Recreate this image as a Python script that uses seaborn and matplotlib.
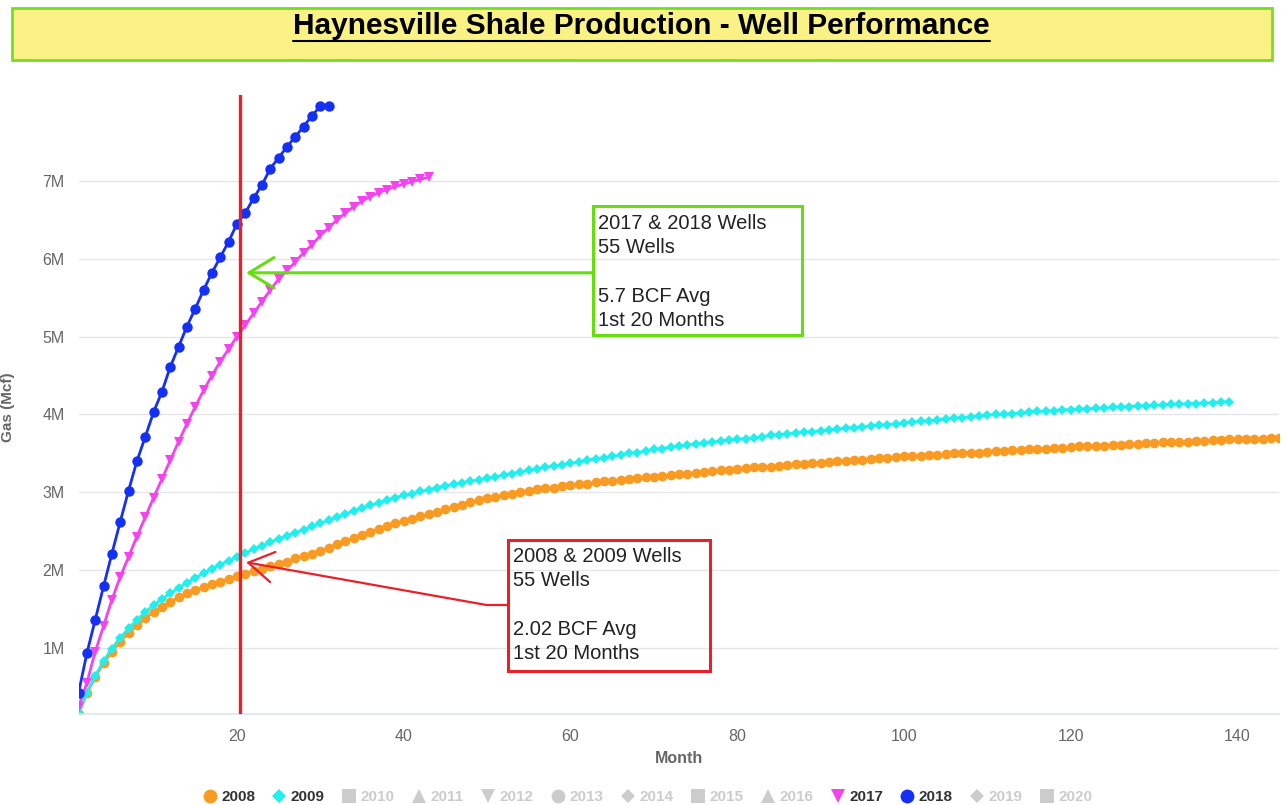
import matplotlib
matplotlib.use("Agg")
import matplotlib.pyplot as plt
from matplotlib.lines import Line2D
from matplotlib.patches import Rectangle
import pandas as pd
import seaborn as sns

# --- dados (Gas acumulado, em milhões de Mcf) ---
gas_2008 = [
    0.15, 0.42, 0.62, 0.80, 0.95, 1.08, 1.19, 1.29, 1.38, 1.46,
    1.53, 1.59, 1.65, 1.70, 1.74, 1.78, 1.82, 1.85, 1.89, 1.92,
    1.95, 1.99, 2.02, 2.05, 2.08, 2.11, 2.15, 2.18, 2.21, 2.25,
    2.29, 2.33, 2.37, 2.41, 2.45, 2.49, 2.53, 2.56, 2.60, 2.63,
    2.66, 2.69, 2.72, 2.75, 2.78, 2.81, 2.84, 2.87, 2.90, 2.92,
    2.94, 2.96, 2.98, 3.00, 3.02, 3.04, 3.05, 3.06, 3.08, 3.09,
    3.10, 3.11, 3.13, 3.14, 3.15, 3.16, 3.17, 3.18, 3.19, 3.20,
    3.21, 3.22, 3.23, 3.24, 3.25, 3.26, 3.27, 3.28, 3.29, 3.30,
    3.31, 3.32, 3.32, 3.33, 3.34, 3.35, 3.36, 3.36, 3.37, 3.38,
    3.39, 3.40, 3.40, 3.41, 3.42, 3.43, 3.44, 3.44, 3.45, 3.46,
    3.47, 3.47, 3.48, 3.48, 3.49, 3.50, 3.50, 3.51, 3.51, 3.52,
    3.53, 3.53, 3.54, 3.54, 3.55, 3.56, 3.56, 3.57, 3.57, 3.58,
    3.59, 3.59, 3.60, 3.60, 3.61, 3.61, 3.62, 3.62, 3.63, 3.63,
    3.64, 3.64, 3.65, 3.65, 3.66, 3.66, 3.67, 3.67, 3.68, 3.68,
    3.69, 3.69, 3.69, 3.70, 3.70,
]
gas_2009 = [
    0.15, 0.42, 0.64, 0.83, 0.99, 1.13, 1.25, 1.36, 1.46, 1.55,
    1.63, 1.70, 1.77, 1.84, 1.90, 1.96, 2.02, 2.07, 2.12, 2.17,
    2.22, 2.27, 2.31, 2.36, 2.40, 2.44, 2.48, 2.52, 2.56, 2.60,
    2.64, 2.68, 2.72, 2.76, 2.80, 2.83, 2.86, 2.90, 2.93, 2.96,
    2.98, 3.01, 3.03, 3.06, 3.08, 3.10, 3.12, 3.14, 3.16, 3.18,
    3.20, 3.22, 3.24, 3.26, 3.28, 3.30, 3.32, 3.34, 3.35, 3.37,
    3.39, 3.41, 3.43, 3.44, 3.46, 3.48, 3.50, 3.51, 3.53, 3.55,
    3.56, 3.58, 3.59, 3.61, 3.62, 3.63, 3.64, 3.66, 3.67, 3.68,
    3.69, 3.70, 3.71, 3.73, 3.74, 3.75, 3.76, 3.77, 3.78, 3.79,
    3.80, 3.81, 3.82, 3.83, 3.84, 3.85, 3.86, 3.87, 3.88, 3.89,
    3.90, 3.91, 3.92, 3.93, 3.94, 3.95, 3.96, 3.97, 3.98, 3.99,
    4.00, 4.00, 4.01, 4.02, 4.03, 4.04, 4.04, 4.05, 4.06, 4.06,
    4.07, 4.07, 4.08, 4.08, 4.09, 4.10, 4.10, 4.11, 4.11, 4.12,
    4.12, 4.13, 4.13, 4.14, 4.14, 4.15, 4.15, 4.16, 4.16,
]
gas_2017 = [
    0.24, 0.55, 0.95, 1.28, 1.62, 1.91, 2.17, 2.43, 2.68, 2.93,
    3.17, 3.41, 3.65, 3.88, 4.10, 4.31, 4.50, 4.68, 4.84, 5.00,
    5.15, 5.30, 5.45, 5.60, 5.74, 5.85, 5.96, 6.08, 6.18, 6.30,
    6.40, 6.50, 6.59, 6.67, 6.74, 6.80, 6.85, 6.89, 6.93, 6.96,
    6.99, 7.02, 7.05,
]
gas_2018 = [
    0.42, 0.93, 1.36, 1.79, 2.21, 2.62, 3.02, 3.40, 3.71, 4.03,
    4.29, 4.61, 4.87, 5.13, 5.36, 5.60, 5.82, 6.02, 6.22, 6.45,
    6.59, 6.78, 6.95, 7.16, 7.30, 7.44, 7.57, 7.70, 7.84, 7.96,
    7.96,
]

series = {"2008": gas_2008, "2009": gas_2009, "2017": gas_2017, "2018": gas_2018}
cores = {"2008": "#F99B22", "2009": "#22EEEE", "2017": "#F542F0", "2018": "#1530F5"}
marcadores = {"2008": "o", "2009": "D", "2017": "v", "2018": "o"}
tam_marcador = {"2008": 7, "2009": 5, "2017": 6.5, "2018": 7.5}

anos_legenda = ["2008", "2009", "2010", "2011", "2012", "2013", "2014",
                "2015", "2016", "2017", "2018", "2019", "2020"]
marcadores_legenda = ["o", "D", "s", "^", "v", "o", "D", "s", "^", "v", "o", "D", "s"]

y_ticks = [1, 2, 3, 4, 5, 6, 7]
x_ticks = [20, 40, 60, 80, 100, 120, 140]

# monta o DataFrame longo
linhas = []
for ano, valores in series.items():
    for i, v in enumerate(valores):
        linhas.append({"Ano": ano, "Month": i + 1, "Gas": v * 1e6})
df = pd.DataFrame(linhas)

sns.set_theme(style="white")
plt.rcParams["font.family"] = ["Liberation Sans", "DejaVu Sans"]

fig = plt.figure(figsize=(12.87, 8.05), dpi=100)
ax = fig.add_axes([0.061, 0.113, 0.933, 0.7685])

for ano in series:
    sns.lineplot(
        data=df[df["Ano"] == ano],
        x="Month",
        y="Gas",
        color=cores[ano],
        marker=marcadores[ano],
        markersize=tam_marcador[ano],
        markeredgewidth=0,
        lw=2,
        ax=ax,
        legend=False,
    )

# linha vertical vermelha no mês 20
ax.axvline(20.4, color="#E8202A", lw=2.4, zorder=10)

# --- eixos ---
ax.set_xlim(1, 145)
ax.set_ylim(0.15e6, 8.1e6)
ax.set_yticks([v * 1e6 for v in y_ticks])
ax.set_yticklabels([f"{v}M" for v in y_ticks])
ax.set_xticks(x_ticks)
ax.set_xticklabels([str(v) for v in x_ticks])
ax.grid(axis="y", color="#e6e6e6", lw=1)
ax.grid(axis="x", visible=False)
for lado in ["top", "right", "left"]:
    ax.spines[lado].set_visible(False)
ax.spines["bottom"].set_color("#dde3ee")
ax.spines["bottom"].set_linewidth(1.2)
ax.tick_params(axis="x", length=8, color="#dde3ee", labelcolor="#666666", labelsize=11.5, pad=3)
ax.tick_params(axis="y", length=0, labelcolor="#666666", labelsize=11.5, pad=10)
ax.set_xlabel("Month", fontsize=11.5, fontweight="bold", color="#666666", labelpad=5)
ax.set_ylabel("")
fig.text(0.006, 0.494, "Gas (Mcf)", rotation=90, ha="center", va="center",
         fontsize=11, fontweight="bold", color="#666666")

# --- anotações ---
ax.add_patch(Rectangle((62.7, 5.02e6), 25.1, 1.66e6, fill=False,
                       edgecolor="#66DD11", lw=2.2, zorder=11))
ax.text(63.3, 6.58e6, "2017 & 2018 Wells\n55 Wells\n\n5.7 BCF Avg\n1st 20 Months",
        fontsize=14.5, color="#222222", va="top", ha="left", linespacing=1.36, zorder=12)
ax.annotate("", xy=(21.1, 5.82e6), xytext=(62.7, 5.82e6),
            arrowprops=dict(arrowstyle="->,head_length=0.9,head_width=0.55",
                            color="#66DD11", lw=2.2, mutation_scale=20,
                            shrinkA=0, shrinkB=0), zorder=11)

ax.add_patch(Rectangle((52.5, 0.70e6), 24.2, 1.69e6, fill=False,
                       edgecolor="#E8202A", lw=2.2, zorder=11))
ax.text(53.1, 2.30e6, "2008 & 2009 Wells\n55 Wells\n\n2.02 BCF Avg\n1st 20 Months",
        fontsize=14.5, color="#222222", va="top", ha="left", linespacing=1.36, zorder=12)
ax.plot([50.0, 52.5], [1.55e6, 1.55e6], color="#E8202A", lw=1.6, zorder=11)
ax.annotate("", xy=(21.1, 2.10e6), xytext=(50.0, 1.55e6),
            arrowprops=dict(arrowstyle="->,head_length=0.9,head_width=0.55",
                            color="#E8202A", lw=1.6, mutation_scale=20,
                            shrinkA=0, shrinkB=0), zorder=11)

# --- caixa do título ---
fig.patches.append(Rectangle((12 / 1287, 1 - 60 / 805), 1260 / 1287, 52 / 805,
                             transform=fig.transFigure, facecolor="#FBF286",
                             edgecolor="#77DD22", lw=2, zorder=0))
titulo = fig.text(0.4985, 1 - 26 / 805, "Haynesville Shale Production - Well Performance",
                  ha="center", va="center", fontsize=21.5, fontweight="bold", color="black")
renderer = fig.canvas.get_renderer()
bb = titulo.get_window_extent(renderer)
fig.add_artist(Line2D([bb.x0 / 1287, bb.x1 / 1287], [(bb.y0 - 1) / 805] * 2,
                      transform=fig.transFigure, color="black", lw=1.5))

# --- legenda ---
handles = []
for ano, m in zip(anos_legenda, marcadores_legenda):
    cor = cores.get(ano, "#cccccc")
    handles.append(Line2D([], [], linestyle="none", marker=m, markersize=10 if m != "D" else 7,
                          markerfacecolor=cor, markeredgewidth=0, label=ano))
leg = fig.legend(handles=handles, loc="center", bbox_to_anchor=(0.503, 1 - 797 / 805),
                 ncol=13, frameon=False, handletextpad=0.25, columnspacing=1.1,
                 handlelength=1.0, prop={"weight": "bold", "size": 11})
for txt in leg.get_texts():
    txt.set_color("#333333" if txt.get_text() in cores else "#cccccc")

plt.savefig("out.png", dpi=100)
plt.close()
